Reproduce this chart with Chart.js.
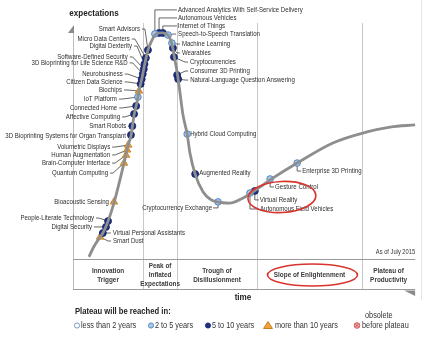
<!DOCTYPE html>
<html><head><meta charset="utf-8">
<script src="https://cdn.jsdelivr.net/npm/chart.js@4.4.1/dist/chart.umd.min.js"></script>
<style>html,body{margin:0;padding:0;background:#fff}#wrap{width:443px;height:344px;position:relative}</style>
</head><body><div id="wrap"><canvas id="c" width="443" height="344"></canvas></div>
<script>
// ---- Data (time 0..100, expectations 0..100) ----
const curveX = [4.6,5.8,7.8,8.6,9.8,11.8,14.7,15.9,16.7,17.6,18.4,19.0,19.9,20.5,21.6,22.5,23.6,24.8,25.9,27.4,28.5,29.1,30.0,30.8,31.7,32.9,33.7,35.2,37.5,39.5,41.5,45.2,49.0,51.0,53.9,56.8,64.6,74.9,84.7,91.4,98.6];
const curveY = [0.9,4.7,9.4,11.1,15.0,23.9,41.0,48.7,52.6,61.5,66.7,71.8,77.4,82.1,89.3,92.7,95.7,96.6,96.6,95.7,91.9,87.2,79.9,71.4,61.5,53.4,45.3,36.3,28.6,25.6,24.4,23.9,26.1,27.8,30.8,33.8,41.0,49.6,54.3,56.4,57.3];

const twoFiveNames = ['IoT Platform','Advanced Analytics With Self-Service Delivery','Speech-to-Speech Translation','Machine Learning','Hybrid Cloud Computing','Cryptocurrency Exchange','Autonomous Field Vehicles','Gesture Control','Enterprise 3D Printing'];
const twoFiveX = [18.7,23.6,27.4,28.5,32.9,41.8,51.0,56.8,64.6];
const twoFiveY = [69.2,96.2,95.7,92.3,53.4,24.4,28.2,34.2,41.0];

const fiveTenNames = ['Virtual Personal Assistants','Digital Security','People-Literate Technology','3D Bioprinting Systems for Organ Transplant','Smart Robots','Affective Computing','Connected Home','Citizen Data Science','Neurobusiness','3D Bioprinting for Life Science R&D','Software-Defined Security','Digital Dexterity','Micro Data Centers','Smart Advisors','Autonomous Vehicles','Internet of Things','Wearables','Cryptocurrencies','Consumer 3D Printing','Natural-Language Question Answering','Augmented Reality','Virtual Reality'];
const fiveTenX = [8.6,9.5,10.1,16.7,17.1,17.6,18.2,19.5,19.8,20.1,20.4,20.6,21.0,21.6,24.8,25.9,28.8,29.1,30.0,30.3,35.2,52.4];
const fiveTenY = [11.1,13.7,16.2,53.0,56.8,62.0,65.4,74.8,76.9,79.1,81.2,83.3,85.9,89.3,96.6,96.6,90.2,86.3,78.6,76.9,36.3,29.1];

const moreTenNames = ['Smart Dust','Bioacoustic Sensing','Quantum Computing','Brain-Computer Interface','Human Augmentation','Volumetric Displays','Biochips'];
const moreTenX = [7.8,11.8,14.7,15.3,15.6,15.9,19.0];
const moreTenY = [9.4,24.4,41.0,44.4,46.6,48.7,71.8];

const phaseNames = [['Innovation','Trigger'],['Peak of','Inflated','Expectations'],['Trough of','Disillusionment'],['Slope of Enlightenment'],['Plateau of','Productivity']];
const phaseBounds = [0, 20.2, 30.0, 53.0, 83.3, 98.6];

const legendLabels = ['less than 2 years','2 to 5 years','5 to 10 years','more than 10 years','before plateau'];

// ---- label layout (pixel offsets from point) ----
const labelLayout = {
 'Smart Advisors':['L',-8,-21],'Micro Data Centers':['L',-16,-19],'Digital Dexterity':['L',-12.5,-18],
 'Software-Defined Security':['L',-16,-12],'3D Bioprinting for Life Science R&D':['L',-15,-11],
 'Neurobusiness':['L',-19,-5],'Citizen Data Science':['L',-18,-2],'Biochips':['L',-17,-1],
 'IoT Platform':['L',-21,2],'Connected Home':['L',-19,2],'Affective Computing':['L',-14,3],
 'Smart Robots':['L',-6,0],'3D Bioprinting Systems for Organ Transplant':['L',-5,1],
 'Volumetric Displays':['L',-18,2],'Human Augmentation':['L',-17,5],'Brain-Computer Interface':['L',-16,8],
 'Quantum Computing':['L',-16,10],'Bioacoustic Sensing':['L',-5,0],'People-Literate Technology':['L',-14,-3],
 'Digital Security':['L',-14,0],'Virtual Personal Assistants':['R',10,0],'Smart Dust':['R',13,4],
 'Advanced Analytics With Self-Service Delivery':['E',23,-24],'Autonomous Vehicles':['E',19,-15],
 'Internet of Things':['E',15,-7],'Speech-to-Speech Translation':['R',10,-1],'Machine Learning':['R',10,1],
 'Wearables':['R',9,5],'Cryptocurrencies':['R',16,5],'Consumer 3D Printing':['R',13,-4],
 'Natural-Language Question Answering':['R',12,1],'Hybrid Cloud Computing':['R',3,0],'Augmented Reality':['R',4,-1],
 'Cryptocurrency Exchange':['EL',-6,6],'Virtual Reality':['E',5,9],'Autonomous Field Vehicles':['E',10,16],
 'Gesture Control':['E',5,8],'Enterprise 3D Printing':['E',5,8]
};

const FONT = '"Liberation Sans", Arial, sans-serif';
const SX = 0.8;
function txt(ctx, s, x, y, align, size, bold, color, sx) {
  sx = sx || SX;
  ctx.save();
  ctx.font = (bold ? 'bold ' : '') + size + 'px ' + FONT;
  ctx.fillStyle = color || '#333';
  ctx.textBaseline = 'middle'; ctx.textAlign = 'left';
  const w = ctx.measureText(s).width * sx;
  const x0 = align === 'right' ? x - w : align === 'center' ? x - w / 2 : x;
  ctx.translate(x0, y); ctx.scale(sx, 1); ctx.fillText(s, 0, 0);
  ctx.restore();
}
const mk = (xs, ys, ns) => xs.map((x, i) => ({x, y: ys[i], name: ns[i]}));

const DARK = '#1c2f80', LIGHTF = '#a8c8ea', LIGHTB = '#4f86c2', ORF = '#eea43a', ORB = '#c27614';

const labelsPlugin = {
  id: 'labels',
  beforeDatasetsDraw(chart) {
    const ctx = chart.ctx;
    ctx.save();
    ctx.strokeStyle = '#4a4a4a'; ctx.lineWidth = 0.85;
    for (let d = 1; d < chart.data.datasets.length; d++) {
      const meta = chart.getDatasetMeta(d);
      const ds = chart.data.datasets[d];
      meta.data.forEach((el, j) => {
        const name = ds.data[j].name; const lay = labelLayout[name]; if (!lay) return;
        const px = el.x, py = el.y, lx = px + lay[1], ly = py + lay[2];
        ctx.beginPath();
        if (lay[0] === 'L') {
          if (Math.abs(lay[1]) > 6) { ctx.moveTo(lx + 2, ly); ctx.lineTo(lx + 5, ly); ctx.lineTo(px, py); }
          else { ctx.moveTo(lx + 2, ly); ctx.lineTo(px, py); }
          ctx.stroke(); txt(ctx, name, lx, ly, 'right', 7.6, false, '#2e2e2e');
        } else if (lay[0] === 'R') {
          if (Math.abs(lay[1]) > 6) { ctx.moveTo(lx - 2, ly); ctx.lineTo(lx - 5, ly); ctx.lineTo(px, py); ctx.stroke(); }
          txt(ctx, name, lx, ly, 'left', 7.6, false, '#2e2e2e');
        } else if (lay[0] === 'E') {
          ctx.moveTo(px, py); ctx.lineTo(px, ly); ctx.lineTo(lx - 1, ly); ctx.stroke();
          txt(ctx, name, lx, ly, 'left', 7.6, false, '#2e2e2e');
        } else {
          ctx.moveTo(px, py); ctx.lineTo(px, ly); ctx.lineTo(lx + 1, ly); ctx.stroke();
          txt(ctx, name, lx, ly, 'right', 7.6, false, '#2e2e2e');
        }
      });
    }
    ctx.restore();
  }
};

const framePlugin = {
  id: 'frame',
  beforeDraw(chart) {
    const ctx = chart.ctx, a = chart.chartArea, xs = chart.scales.x;
    ctx.save();
    ctx.fillStyle = '#fff'; ctx.fillRect(0, 0, chart.width, chart.height);
    const rowTop = a.bottom, rowBot = a.bottom + 30;
    const right = xs.getPixelForValue(phaseBounds[5]);
    ctx.strokeStyle = '#e4e4e4'; ctx.lineWidth = 1;
    ctx.beginPath(); ctx.moveTo(421.5, 0); ctx.lineTo(421.5, 300); ctx.stroke();
    ctx.strokeStyle = '#c8c8c8'; ctx.lineWidth = 1;
    for (let i = 1; i < 5; i++) {
      const x = Math.round(xs.getPixelForValue(phaseBounds[i])) + 0.5;
      ctx.beginPath(); ctx.moveTo(x, a.top - 2); ctx.lineTo(x, rowBot); ctx.stroke();
    }
    ctx.strokeStyle = '#bdbdbd';
    ctx.beginPath(); ctx.moveTo(a.left + 0.5, a.top + 6); ctx.lineTo(a.left + 0.5, rowBot); ctx.stroke();
    ctx.fillStyle = '#8a8a8a';
    ctx.beginPath(); ctx.moveTo(a.left + 1, a.top); ctx.lineTo(a.left + 1, a.top + 8); ctx.lineTo(a.left - 5, a.top + 8); ctx.closePath(); ctx.fill();
    ctx.strokeStyle = '#9a9a9a'; ctx.lineWidth = 1.2;
    ctx.beginPath(); ctx.moveTo(a.left, rowTop + 0.5); ctx.lineTo(right, rowTop + 0.5);
    ctx.moveTo(a.left, rowBot + 0.5); ctx.lineTo(right, rowBot + 0.5); ctx.stroke();
    ctx.fillStyle = '#8a8a8a';
    ctx.beginPath(); ctx.moveTo(right - 11, rowBot + 1.5); ctx.lineTo(right, rowBot + 1.5); ctx.lineTo(right, rowBot + 7); ctx.closePath(); ctx.fill();
    for (let i = 0; i < 5; i++) {
      const cx = (xs.getPixelForValue(phaseBounds[i]) + xs.getPixelForValue(phaseBounds[i + 1])) / 2;
      const lines = phaseNames[i]; const lh = 9.2;
      const y0 = (rowTop + rowBot) / 2 + 1 - (lines.length - 1) * lh / 2;
      lines.forEach((s, k) => txt(ctx, s, cx, y0 + k * lh, 'center', 7.8, true, '#3a3a3a', 0.82));
    }
    txt(ctx, 'expectations', 94, 13, 'center', 9.5, true, '#222', 0.85);
    txt(ctx, 'time', 243, 298, 'center', 9, true, '#222', 0.9);
    txt(ctx, 'As of July 2015', right, rowTop - 7, 'right', 7.2, false, '#333');
    txt(ctx, 'Plateau will be reached in:', 75, 312, 'left', 8.8, true, '#222', 0.87);
    const ly = 325.5;
    ctx.lineWidth = 0.9;
    ctx.fillStyle = '#fff'; ctx.strokeStyle = '#6b8fb8';
    ctx.beginPath(); ctx.arc(77, ly, 2.6, 0, Math.PI * 2); ctx.fill(); ctx.stroke();
    ctx.fillStyle = LIGHTF; ctx.strokeStyle = LIGHTB;
    ctx.beginPath(); ctx.arc(151, ly, 2.6, 0, Math.PI * 2); ctx.fill(); ctx.stroke();
    ctx.fillStyle = DARK; ctx.strokeStyle = DARK;
    ctx.beginPath(); ctx.arc(208, ly, 2.6, 0, Math.PI * 2); ctx.fill(); ctx.stroke();
    ctx.fillStyle = ORF; ctx.strokeStyle = ORB;
    ctx.beginPath(); ctx.moveTo(268, ly - 4); ctx.lineTo(272.5, ly + 3); ctx.lineTo(263.5, ly + 3); ctx.closePath(); ctx.fill(); ctx.stroke();
    ctx.fillStyle = '#f4b8b8'; ctx.strokeStyle = '#d04848';
    ctx.beginPath(); ctx.arc(357, ly, 2.8, 0, Math.PI * 2); ctx.fill(); ctx.stroke();
    ctx.beginPath(); ctx.moveTo(355.2, ly - 1.8); ctx.lineTo(358.8, ly + 1.8); ctx.moveTo(358.8, ly - 1.8); ctx.lineTo(355.2, ly + 1.8); ctx.stroke();
    const lx = [81, 155, 212, 275, 362];
    legendLabels.forEach((s, i) => txt(ctx, s, lx[i], ly, 'left', 8.6, false, '#333', 0.85));
    txt(ctx, 'obsolete', 365, 316, 'left', 8.6, false, '#333', 0.85);
    ctx.restore();
  },
  afterDatasetsDraw(chart) {
    const ctx = chart.ctx, xs = chart.scales.x, ys = chart.scales.y, a = chart.chartArea;
    ctx.save();
    ctx.strokeStyle = '#d8342c'; ctx.lineWidth = 1.6;
    ctx.beginPath();
    ctx.ellipse(xs.getPixelForValue(60.2), ys.getPixelForValue(26.5), 34, 15.5, -0.05, 0, Math.PI * 2);
    ctx.stroke();
    const cx = (xs.getPixelForValue(phaseBounds[3]) + xs.getPixelForValue(phaseBounds[4])) / 2 + 3;
    ctx.beginPath(); ctx.ellipse(cx, a.bottom + 16, 45, 11, 0, 0, Math.PI * 2); ctx.stroke();
    ctx.restore();
  }
};

new Chart(document.getElementById('c'), {
  type: 'scatter',
  data: {
    datasets: [
      { type: 'line', data: curveX.map((x, i) => ({x, y: curveY[i]})), borderColor: '#8e8e8e', borderWidth: 2.8,
        pointRadius: 0, cubicInterpolationMode: 'monotone', fill: false, clip: false },
      { data: mk(twoFiveX, twoFiveY, twoFiveNames), pointRadius: 3.3, backgroundColor: LIGHTF, borderColor: LIGHTB, borderWidth: 1, clip: false },
      { data: mk(fiveTenX, fiveTenY, fiveTenNames), pointRadius: 3.5, backgroundColor: DARK, borderColor: '#152566', borderWidth: 0.8, clip: false },
      { data: mk(moreTenX, moreTenY, moreTenNames), pointStyle: 'triangle', pointRadius: 4.3, backgroundColor: ORF, borderColor: ORB, borderWidth: 0.8, clip: false }
    ]
  },
  options: {
    responsive: false, animation: false, devicePixelRatio: 1,
    layout: { padding: { left: 73, right: 23, top: 25, bottom: 85 } },
    scales: {
      x: { type: 'linear', min: 0, max: 100, display: false },
      y: { type: 'linear', min: 0, max: 100, display: false }
    },
    plugins: { legend: { display: false }, tooltip: { enabled: false } }
  },
  plugins: [framePlugin, labelsPlugin]
});
</script></body></html>
